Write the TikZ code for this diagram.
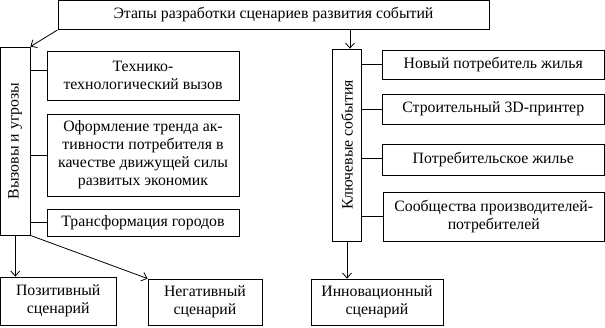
\documentclass[tikz,border=0pt]{standalone}
\usepackage{fontspec}
\usepackage{graphicx}
\setmainfont{Liberation Serif}
\usetikzlibrary{arrows.meta}
\begin{document}
\begin{tikzpicture}[x=1pt,y=-1pt,
  box/.style={draw, line width=0.8pt, inner sep=1pt, align=center,
    font=\fontsize{15.8}{18}\selectfont},
  conn/.style={line width=0.8pt},
  arr/.style={conn, -{Straight Barb[length=5pt,width=9pt,line width=0.8pt]}}]
\useasboundingbox (0,0) rectangle (605,327);
\node[box, minimum width=431, minimum height=29] (top) at (273.5,15) {Этапы разработки сценариев развития событий};
\node[box, minimum width=29.5, minimum height=188] (vL) at (15.25,141) {\rotatebox{90}{Вызовы и угрозы}};
\node[box, minimum width=192, minimum height=49] (b1) at (143,75.5) {Технико-\\технологический вызов};
\node[box, minimum width=192, minimum height=82] (b2) at (143,155) {Оформление тренда ак-\\тивности потребителя в\\качестве движущей силы\\развитых экономик};
\node[box, minimum width=192, minimum height=27] (b3) at (143,222.5) {Трансформация городов};
\node[box, minimum width=115.5, minimum height=48] (pos) at (58.25,301) {Позитивный\\сценарий};
\node[box, minimum width=114, minimum height=46] (neg) at (205,302) {Негативный\\сценарий};
\node[box, minimum width=29.5, minimum height=192] (vR) at (347,145) {\rotatebox{90}{Ключевые события}};
\node[box, minimum width=222.5, minimum height=29] (r1) at (493.25,64.5) {Новый потребитель жилья};
\node[box, minimum width=222.5, minimum height=30] (r2) at (493.25,109) {Строительный 3D-принтер};
\node[box, minimum width=222.5, minimum height=31] (r3) at (493.25,160) {Потребительское жилье};
\node[box, minimum width=221.5, minimum height=49] (r4) at (493.75,216.5) {Сообщества производителей-\\потребителей};
\node[box, minimum width=132, minimum height=46] (inn) at (377,302) {Инновационный\\сценарий};
\coordinate (vRin) at ([xshift=3pt]vR.north);
\draw[arr] (top.south west) -- (vL.north east);
\draw[arr] (top.south -| vRin) -- (vRin);
\draw[conn] ([yshift=5pt]b1.west -| vL.east) -- ([yshift=5pt]b1.west);
\draw[conn] (b2.west -| vL.east) -- (b2.west);
\draw[conn] (b3.west -| vL.east) -- (b3.west);
\draw[arr] (vL.south) -- (vL.south |- pos.north);
\draw[arr] (vL.south east) -- (neg.north west);
\draw[conn] (r1.west -| vR.east) -- (r1.west);
\draw[conn] (r2.west -| vR.east) -- (r2.west);
\draw[conn] ([yshift=2pt]r3.west -| vR.east) -- ([yshift=2pt]r3.west);
\draw[conn] (r4.west -| vR.east) -- (r4.west);
\draw[arr] (vR.south) -- (vR.south |- inn.north);
\end{tikzpicture}
\end{document}
